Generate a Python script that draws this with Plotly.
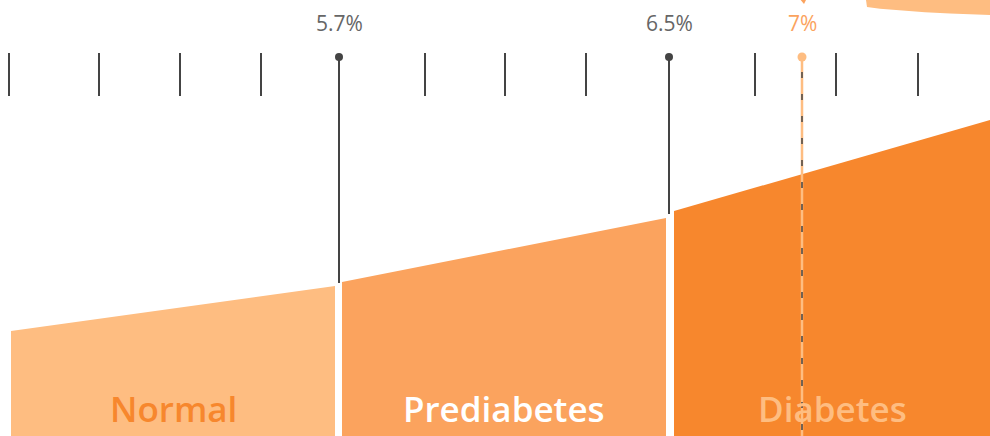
"""
A1C scale graphic: Normal / Prediabetes / Diabetes bands with threshold markers.
"""

import plotly.graph_objects as go

# --- data (horizontal position along the scale, heights from the bottom) ---
band_names = ["Normal", "Prediabetes", "Diabetes"]
band_x0 = [11, 342, 674]
band_x1 = [335, 666, 990]
band_h0 = [105, 154, 225]
band_h1 = [150, 218, 316]
band_colors = ["#FEBD81", "#FBA35E", "#F7872D"]
band_label_colors = ["#F7872D", "#FFFFFF", "#FEBD81"]

tick_x = [9, 99, 180, 261, 425, 505, 586, 755, 836, 918]
tick_top = 383
tick_bottom = 340

marker_labels = ["5.7%", "6.5%"]
marker_x = [339, 669]
marker_end = [153, 222]
marker_top = 379

target_label = "7%"
target_x = 802

blob_x = [866, 867, 880, 900, 925, 950, 975, 990, 990]
blob_y = [436, 429, 427.2, 425.5, 423.7, 422.5, 421.5, 421, 436]

DARK = "#444444"
GREY_TXT = "#666666"
ORANGE_TXT = "#FBA35E"
LIGHT = "#FEBD81"

fig = go.Figure()

# bands
for name, x0, x1, h0, h1, col in zip(band_names, band_x0, band_x1, band_h0, band_h1, band_colors):
    fig.add_trace(go.Scatter(
        x=[x0, x0, x1, x1, x0], y=[-10, h0, h1, -10, -10],
        fill="toself", fillcolor=col, mode="lines",
        line=dict(width=0, color=col), hoverinfo="skip", name=name,
    ))

# short ticks
tx, ty = [], []
for x in tick_x:
    tx += [x, x, None]
    ty += [tick_top, tick_bottom, None]
fig.add_trace(go.Scatter(x=tx, y=ty, mode="lines",
                         line=dict(color=DARK, width=2), hoverinfo="skip"))

# threshold stems
for lab, x, end in zip(marker_labels, marker_x, marker_end):
    fig.add_trace(go.Scatter(x=[x, x], y=[marker_top, end], mode="lines",
                             line=dict(color=DARK, width=2), hoverinfo="skip"))
    fig.add_trace(go.Scatter(x=[x], y=[marker_top], mode="markers",
                             marker=dict(color=DARK, size=8), hoverinfo="skip"))
    fig.add_annotation(x=x, y=413, text=lab, showarrow=False,
                       font=dict(family="Open Sans", size=21, color=GREY_TXT))

# target line (7%)
fig.add_trace(go.Scatter(x=[target_x, target_x], y=[marker_top, -10], mode="lines",
                         line=dict(color=LIGHT, width=2.5), hoverinfo="skip"))
fig.add_trace(go.Scatter(x=[target_x, target_x], y=[marker_top - 15, -10], mode="lines",
                         line=dict(color=DARK, width=1.5, dash="6px,16px"), hoverinfo="skip"))
fig.add_trace(go.Scatter(x=[target_x], y=[marker_top], mode="markers",
                         marker=dict(color=LIGHT, size=9), hoverinfo="skip"))
fig.add_annotation(x=target_x, y=413, text=target_label, showarrow=False,
                   font=dict(family="Open Sans", size=21, color=ORANGE_TXT))
fig.add_trace(go.Scatter(x=[target_x - 3, target_x + 5, target_x + 2, target_x - 3],
                         y=[438, 438, 432, 438], fill="toself", fillcolor=ORANGE_TXT,
                         mode="lines", line=dict(width=0), hoverinfo="skip"))

# callout blob, top right
fig.add_trace(go.Scatter(x=blob_x, y=blob_y, fill="toself", fillcolor=LIGHT,
                         mode="lines", line=dict(width=0, color=LIGHT), hoverinfo="skip"))

# band labels
for name, x0, x1, col in zip(band_names, band_x0, band_x1, band_label_colors):
    fig.add_annotation(x=(x0 + x1) / 2, y=28, text=name, showarrow=False,
                       font=dict(family="Open Sans", size=35, color=col, weight=600))

fig.update_layout(
    width=990, height=436, autosize=False,
    margin=dict(l=0, r=0, t=0, b=0),
    paper_bgcolor="white", plot_bgcolor="white",
    showlegend=False,
)
fig.update_xaxes(range=[0, 990], visible=False, fixedrange=True)
fig.update_yaxes(range=[0, 436], visible=False, fixedrange=True)

fig.write_html("out.html", config={"displayModeBar": False},
               post_script="document.body.style.margin='0';")
